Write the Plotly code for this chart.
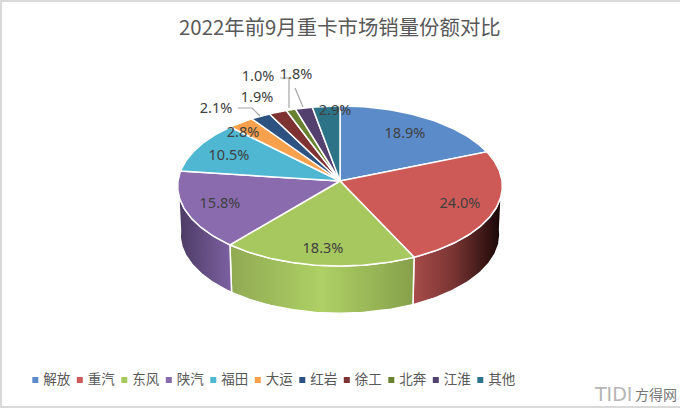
import math
import plotly.graph_objects as go

categories = ["解放", "重汽", "东风", "陕汽", "福田", "大运", "红岩", "徐工", "北奔", "江淮", "其他"]
shares = [18.9, 24.0, 18.3, 15.8, 10.5, 2.8, 2.1, 1.9, 1.0, 1.8, 2.9]
top_colors = ["#5b8bc9", "#cd5a57", "#a7c85f", "#8a6cae", "#4fb7d2", "#f9a04c",
              "#2d5282", "#7f3232", "#688230", "#54406f", "#2c7388"]
title_text = "2022年前9月重卡市场销量份额对比"

# layout (page pixels)
CX, CY, RX, RY, PERSP = 340, 181, 162, 79.7, 0.0625
DEPTH, BOTTOM_SCALE = 48.5, 0.985
label_xy = [(405, 134), (460, 204), (323, 249), (220, 204), (229, 156), (243, 133),
            (216, 109), (257, 98), (258, 77), (296, 75), (335, 111)]
leaders = [[(238, 108), (252, 108), (260, 116)],
           [(280, 78), (289, 78), (289, 108)],
           [(295, 88), (303, 107)]]
side_gradients = {
    1: [[0, "#a84c4a"], [0.45, "#7a3533"], [1, "#150605"]],
    2: [[0, "#90aa52"], [0.5, "#aed065"], [1, "#86a04a"]],
    3: [[0, "#4b3a63"], [1, "#7d61a2"]],
}


def project(deg, scale=1.0, dy=0.0):
    t = math.radians(deg)
    u, v = math.sin(t), math.cos(t)
    d = 1 + PERSP * v
    return CX + scale * RX * u / d, CY + dy - scale * RY * v / d


def arc(a, b, scale=1.0, dy=0.0):
    n = max(int(abs(b - a)), 2)
    return [project(a + (b - a) * i / n, scale, dy) for i in range(n + 1)]


fig = go.Figure()
total = sum(shares)
bounds = [0.0]
for s in shares:
    bounds.append(bounds[-1] + s / total * 360)

# visible side walls
for i in side_gradients:
    a, b = max(bounds[i], 90), min(bounds[i + 1], 270)
    pts = arc(a, b) + arc(b, a, BOTTOM_SCALE, DEPTH)
    pts.append(pts[0])
    xs = [p[0] for p in pts]
    fig.add_trace(go.Scatter(
        x=xs, y=[p[1] for p in pts], mode="lines", fill="toself",
        line=dict(color="white", width=1.5),
        fillgradient=dict(type="horizontal", colorscale=side_gradients[i],
                          start=min(xs), stop=max(xs)),
        hoverinfo="skip", showlegend=False))

# top faces
for i, c in enumerate(top_colors):
    pts = [(CX, CY)] + arc(bounds[i], bounds[i + 1]) + [(CX, CY)]
    fig.add_trace(go.Scatter(
        x=[p[0] for p in pts], y=[p[1] for p in pts], mode="lines", fill="toself",
        fillcolor=c, line=dict(color="white", width=1.5),
        hoverinfo="skip", showlegend=False))

# leader lines
for seg in leaders:
    fig.add_trace(go.Scatter(x=[p[0] for p in seg], y=[p[1] for p in seg], mode="lines",
                             line=dict(color="#a6a6a6", width=1.2),
                             hoverinfo="skip", showlegend=False))

# data labels
fig.add_trace(go.Scatter(
    x=[p[0] for p in label_xy], y=[p[1] for p in label_xy], mode="text",
    text=[f"{s:.1f}%" for s in shares], textposition="middle center",
    textfont=dict(family="Noto Sans, sans-serif", size=14.5, color="#404040"),
    hoverinfo="skip", showlegend=False))

# legend
LEG_X0, LEG_PITCH, LEG_Y = 35.3, 44.5, 380
leg_x = [LEG_X0 + i * LEG_PITCH for i in range(len(categories))]
fig.add_trace(go.Scatter(
    x=leg_x, y=[LEG_Y] * len(leg_x), mode="markers",
    marker=dict(symbol="square", size=6, color=top_colors),
    hoverinfo="skip", showlegend=False))
fig.add_trace(go.Scatter(
    x=[x + 8 for x in leg_x], y=[LEG_Y + 1] * len(leg_x), mode="text", text=categories,
    textposition="middle right",
    textfont=dict(family="Noto Sans CJK SC", size=13.5, color="#595959"),
    hoverinfo="skip", showlegend=False))

fig.update_layout(
    width=680, height=408, margin=dict(l=0, r=0, t=0, b=0),
    paper_bgcolor="white", plot_bgcolor="white", showlegend=False,
    xaxis=dict(range=[0, 680], visible=False, fixedrange=True),
    yaxis=dict(range=[408, 0], visible=False, fixedrange=True),
    annotations=[
        dict(x=340, y=26, xref="x", yref="y", yanchor="middle", text=title_text, showarrow=False,
             font=dict(family="Noto Sans CJK SC", size=20.4, color="#595959")),
        dict(x=634, y=394, xref="x", yref="y", xanchor="right", yanchor="middle", text="TIDI",
             showarrow=False,
             font=dict(family="DejaVu Sans", size=19, color="#b5b5b5")),
        dict(x=679, y=394, xref="x", yref="y", xanchor="right", yanchor="middle", text="方得网",
             showarrow=False,
             font=dict(family="Noto Sans CJK SC", size=14, color="#777777")),
    ],
    shapes=[
        dict(type="rect", xref="x", yref="y", x0=0, x1=680, y0=0, y1=2,
             fillcolor="#d9d9d9", line_width=0),
        dict(type="rect", xref="x", yref="y", x0=0, x1=680, y0=406, y1=408,
             fillcolor="#d9d9d9", line_width=0),
        dict(type="rect", xref="x", yref="y", x0=0, x1=2, y0=0, y1=408,
             fillcolor="#d9d9d9", line_width=0),
    ],
)
fig.write_html("out.html", config={"displayModeBar": False},
               post_script="document.body.style.margin='0';document.body.style.overflow='hidden';")
